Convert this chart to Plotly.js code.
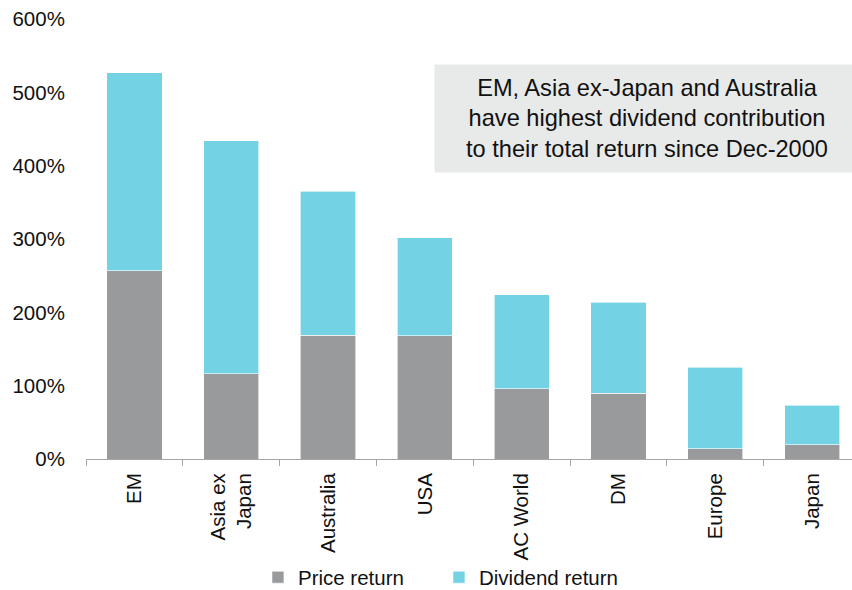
<!DOCTYPE html>
<html>
<head>
<meta charset="utf-8">
<script src="https://cdn.plot.ly/plotly-3.0.1.min.js"></script>
<style>
  html, body { margin: 0; padding: 0; background: #fff; }
  #chart { width: 852px; height: 590px; }
</style>
</head>
<body>
<div id="chart"></div>
<script>
// Cumulative return since Dec-2000, split into price and dividend components (%)
const regions = ["EM", "Asia ex<br>Japan", "Australia", "USA", "AC World", "DM", "Europe", "Japan"];
const priceReturn = [257, 116, 169, 168, 96, 90, 14, 19.5];
const dividendReturn = [270, 318, 196, 134, 128, 124, 111, 53.5];

const seriesNames = ["Price return", "Dividend return"];
const seriesColors = ["#999a9c", "#74d2e5"];
const noteText = "EM, Asia ex-Japan and Australia<br>have highest dividend contribution<br>to their total return since Dec-2000";

const baseFont = { family: "Liberation Sans, Arial, sans-serif", size: 20.5, color: "#111" };

const traces = [priceReturn, dividendReturn].map((vals, i) => ({
  type: "bar",
  name: seriesNames[i],
  x: regions,
  y: vals,
  marker: { color: seriesColors[i], line: { color: "#ffffff", width: 0.6 } },
  hoverinfo: "x+y+name"
}));

const layout = {
  width: 852,
  height: 590,
  margin: { l: 86, r: 0, t: 19, b: 131, autoexpand: false },
  paper_bgcolor: "#ffffff",
  plot_bgcolor: "#ffffff",
  barmode: "stack",
  bargap: 0.43,
  font: baseFont,
  showlegend: true,
  legend: {
    orientation: "h",
    x: 0.2245, xanchor: "left",
    y: -0.269, yanchor: "middle",
    bgcolor: "rgba(0,0,0,0)",
    font: baseFont,
    traceorder: "normal",
    itemwidth: 30,
    entrywidth: 136
  },
  xaxis: {
    type: "category",
    range: [-0.5, 7.412],
    automargin: false,
    showline: true,
    linecolor: "#a6a6a6",
    linewidth: 1,
    ticks: "outside",
    tickson: "boundaries",
    ticklen: 6,
    tickcolor: "#a6a6a6",
    tickangle: -90,
    ticklabelstandoff: 5,
    tickfont: baseFont,
    showgrid: false,
    zeroline: false,
    fixedrange: true
  },
  yaxis: {
    range: [0, 600],
    dtick: 100,
    ticksuffix: "%",
    automargin: false,
    showline: false,
    showgrid: false,
    zeroline: false,
    ticks: "outside",
    ticklen: 16,
    tickcolor: "rgba(0,0,0,0)",
    tickfont: baseFont,
    fixedrange: true
  },
  annotations: [{
    xref: "paper", yref: "paper",
    x: 0.4543, xanchor: "left",
    y: 0.8978, yanchor: "top",
    text: noteText,
    showarrow: false,
    align: "center",
    valign: "middle",
    width: 424,
    height: 107,
    borderpad: 0,
    bgcolor: "#e8e9e9",
    font: { family: "Liberation Sans, Arial, sans-serif", size: 23.6, color: "#111" }
  }]
};

Plotly.newPlot("chart", traces, layout, { displayModeBar: false, staticPlot: true });
</script>
</body>
</html>
